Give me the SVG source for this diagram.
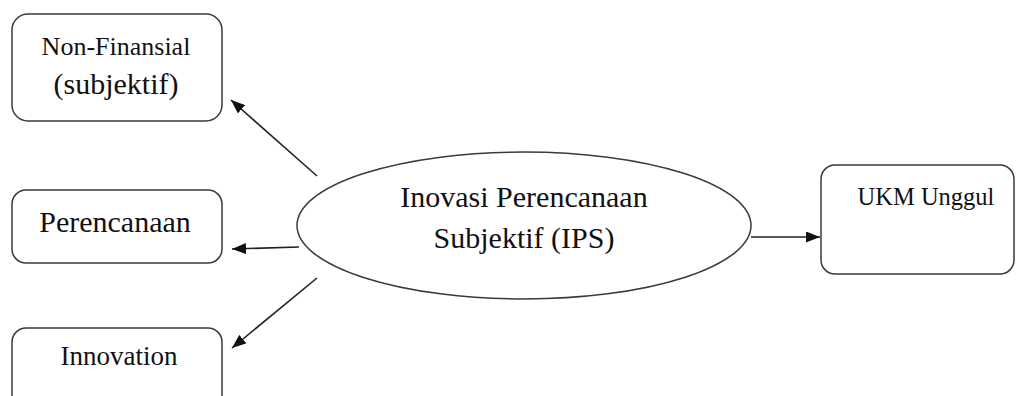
<svg xmlns="http://www.w3.org/2000/svg" width="1016" height="396" viewBox="0 0 1016 396">
<style>
.box{fill:#fff;stroke:#3a3a3a;stroke-width:1.5}
.lbl{font-family:'Liberation Serif','Times New Roman',Times,'DejaVu Serif',serif;fill:#111;text-anchor:middle}
.conn{stroke:#222;stroke-width:1.6;fill:none}
</style>
<defs>
<marker id="ah" markerUnits="userSpaceOnUse" markerWidth="14" markerHeight="11" refX="14" refY="5.5" orient="auto">
<path d="M0,0 L14,5.5 L0,11 z" fill="#111"/>
</marker>
</defs>
<rect width="1016" height="396" fill="#fff"/>
<g id="node-nonfinansial">
<rect class="box" x="12" y="14" width="210" height="107" rx="16"/>
<text class="lbl" font-family="Liberation Serif, serif" x="116" y="55" font-size="26">Non-Finansial</text>
<text class="lbl" font-family="Liberation Serif, serif" x="116" y="94" font-size="30">(subjektif)</text>
</g>
<g id="node-perencanaan">
<rect class="box" x="12" y="190" width="210" height="73" rx="14"/>
<text class="lbl" font-family="Liberation Serif, serif" x="115" y="232" font-size="30">Perencanaan</text>
</g>
<g id="node-innovation">
<rect class="box" x="12" y="328" width="210" height="90" rx="14"/>
<text class="lbl" font-family="Liberation Serif, serif" x="119" y="365" font-size="27">Innovation</text>
</g>
<g id="node-ips">
<ellipse class="box" cx="524" cy="225.5" rx="227" ry="73.5"/>
<text class="lbl" font-family="Liberation Serif, serif" x="524" y="207" font-size="30">Inovasi Perencanaan</text>
<text class="lbl" font-family="Liberation Serif, serif" x="524" y="248" font-size="30">Subjektif (IPS)</text>
</g>
<g id="node-ukm">
<rect class="box" x="821" y="165" width="193" height="109" rx="14"/>
<text class="lbl" font-family="Liberation Serif, serif" x="926" y="205" font-size="24.5">UKM Unggul</text>
</g>
<g id="connectors">
<line class="conn" x1="317" y1="176" x2="231" y2="100" marker-end="url(#ah)"/>
<line class="conn" x1="299" y1="247" x2="232" y2="249" marker-end="url(#ah)"/>
<line class="conn" x1="317" y1="278" x2="232" y2="348" marker-end="url(#ah)"/>
<line class="conn" x1="751" y1="237" x2="820" y2="237" marker-end="url(#ah)"/>
</g>
</svg>
